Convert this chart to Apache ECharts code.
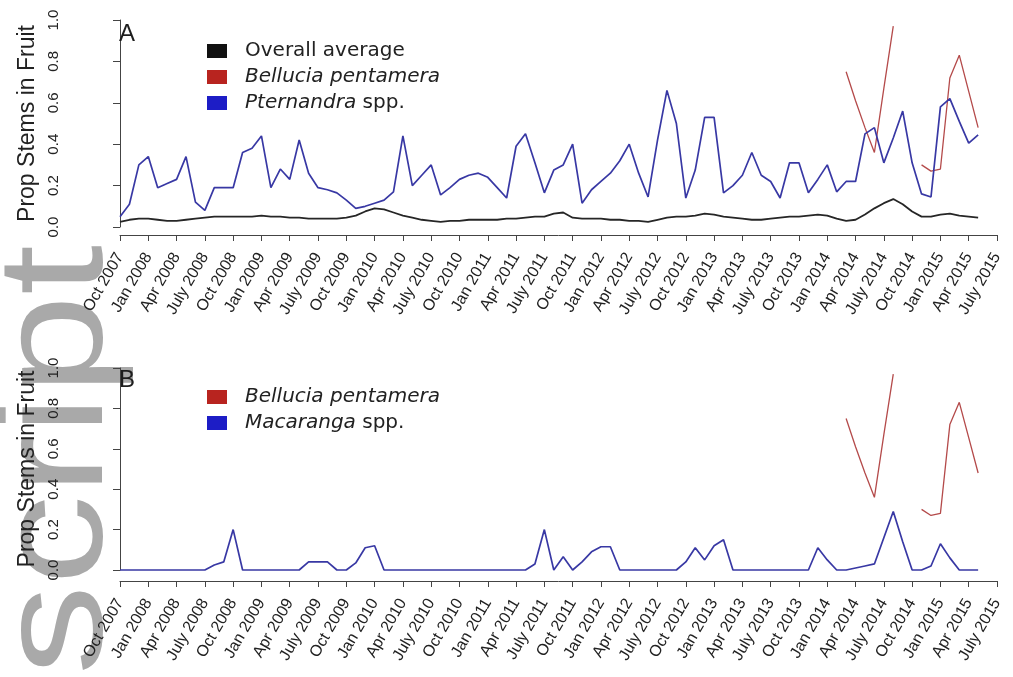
<!DOCTYPE html>
<html>
<head>
<meta charset="utf-8">
<script src="https://cdn.jsdelivr.net/npm/echarts@6/dist/echarts.min.js"></script>
<style>
  html, body { margin: 0; padding: 0; background: #fff; }
  #chart { width: 1013px; height: 677px; }
</style>
</head>
<body>
<div id="chart"></div>
<script>
// Quarterly tick labels, Oct 2007 .. July 2015 (one tick every 3 months)
const quarterLabels = [
  'Oct 2007',
  'Jan 2008', 'Apr 2008', 'July 2008', 'Oct 2008',
  'Jan 2009', 'Apr 2009', 'July 2009', 'Oct 2009',
  'Jan 2010', 'Apr 2010', 'July 2010', 'Oct 2010',
  'Jan 2011', 'Apr 2011', 'July 2011', 'Oct 2011',
  'Jan 2012', 'Apr 2012', 'July 2012', 'Oct 2012',
  'Jan 2013', 'Apr 2013', 'July 2013', 'Oct 2013',
  'Jan 2014', 'Apr 2014', 'July 2014', 'Oct 2014',
  'Jan 2015', 'Apr 2015', 'July 2015'
];

// Monthly proportion of stems in fruit, starting Oct 2007 (month 0)
const overallAverage = [
  0.025, 0.035, 0.04, 0.04, 0.035, 0.03, 0.03, 0.035, 0.04, 0.045,
  0.05, 0.05, 0.05, 0.05, 0.05, 0.055, 0.05, 0.05, 0.045, 0.045,
  0.04, 0.04, 0.04, 0.04, 0.045, 0.055, 0.075, 0.09, 0.085, 0.07,
  0.055, 0.045, 0.035, 0.03, 0.025, 0.03, 0.03, 0.035, 0.035, 0.035,
  0.035, 0.04, 0.04, 0.045, 0.05, 0.05, 0.065, 0.07, 0.045, 0.04,
  0.04, 0.04, 0.035, 0.035, 0.03, 0.03, 0.025, 0.035, 0.045, 0.05,
  0.05, 0.055, 0.065, 0.06, 0.05, 0.045, 0.04, 0.035, 0.035, 0.04,
  0.045, 0.05, 0.05, 0.055, 0.06, 0.055, 0.04, 0.03, 0.035, 0.06,
  0.09, 0.115, 0.135, 0.11, 0.075, 0.05, 0.05, 0.06, 0.065, 0.055,
  0.05, 0.045
];

const pternandra = [
  0.05, 0.11, 0.30, 0.34, 0.19, 0.21, 0.23, 0.34, 0.12, 0.08,
  0.19, 0.19, 0.19, 0.36, 0.38, 0.44, 0.19, 0.28, 0.23, 0.42,
  0.26, 0.19, 0.18, 0.165, 0.13, 0.09, 0.10, 0.115, 0.13, 0.17,
  0.44, 0.20, 0.25, 0.30, 0.155, 0.19, 0.23, 0.25, 0.26, 0.24,
  0.19, 0.14, 0.39, 0.45, 0.31, 0.165, 0.275, 0.30, 0.40, 0.115,
  0.18, 0.22, 0.26, 0.32, 0.40, 0.26, 0.145, 0.42, 0.66, 0.50,
  0.14, 0.275, 0.53, 0.53, 0.165, 0.20, 0.25, 0.36, 0.25, 0.22,
  0.14, 0.31, 0.31, 0.165, 0.23, 0.30, 0.17, 0.22, 0.22, 0.45,
  0.48, 0.31, 0.43, 0.56, 0.31, 0.16, 0.145, 0.58, 0.62, 0.51,
  0.405, 0.445
];

const N = null;
const bellucia = [
  N, N, N, N, N, N, N, N, N, N,
  N, N, N, N, N, N, N, N, N, N,
  N, N, N, N, N, N, N, N, N, N,
  N, N, N, N, N, N, N, N, N, N,
  N, N, N, N, N, N, N, N, N, N,
  N, N, N, N, N, N, N, N, N, N,
  N, N, N, N, N, N, N, N, N, N,
  N, N, N, N, N, N, N, 0.75, 0.61, 0.48,
  0.36, 0.67, 0.97, N, N, 0.30, 0.27, 0.28, 0.72, 0.83,
  0.655, 0.48
];

const macaranga = [
  0, 0, 0, 0, 0, 0, 0, 0, 0, 0,
  0.025, 0.04, 0.20, 0, 0, 0, 0, 0, 0, 0,
  0.04, 0.04, 0.04, 0, 0, 0.035, 0.11, 0.12, 0, 0,
  0, 0, 0, 0, 0, 0, 0, 0, 0, 0,
  0, 0, 0, 0, 0.03, 0.20, 0, 0.065, 0, 0.04,
  0.09, 0.115, 0.115, 0, 0, 0, 0, 0, 0, 0,
  0.04, 0.11, 0.05, 0.12, 0.15, 0, 0, 0, 0, 0,
  0, 0, 0, 0, 0.11, 0.05, 0, 0, 0.01, 0.02,
  0.03, 0.16, 0.29, 0.14, 0, 0, 0.02, 0.13, 0.06, 0,
  0, 0
];

const monthPairs = values => values.map((v, i) => [i, v]);

const TEXT = '#222222';
const AXIS = '#444444';
const SANS = 'Liberation Sans, Arial, Helvetica, sans-serif';
const LEGEND_FONT = 'DejaVu Sans, sans-serif';

const COLORS = {
  avgLine: '#262626', avgKey: '#111111',
  belLine: '#b44a4a', belKey: '#b8241f',
  blueLine: '#3838a4', blueKey: '#1d1dc6'
};

function timeAxis(gridIndex, offset) {
  return {
    type: 'value', gridIndex, min: 0, max: 93, interval: 3, offset,
    axisLine: { show: true, onZero: false, lineStyle: { color: AXIS, width: 1 } },
    axisTick: { show: true, length: 6, lineStyle: { color: AXIS, width: 1 } },
    axisLabel: {
      rotate: 60, margin: 19, fontSize: 16, fontFamily: SANS, color: TEXT,
      showMinLabel: true, showMaxLabel: true, hideOverlap: false,
      formatter: v => quarterLabels[Math.round(v / 3)] || ''
    },
    splitLine: { show: false }
  };
}

function propAxis(gridIndex) {
  return {
    type: 'value', gridIndex, min: 0, max: 1, interval: 0.2, offset: 47,
    name: 'Prop Stems in Fruit', nameLocation: 'middle', nameGap: 34, nameRotate: 90,
    nameMoveOverlap: false,
    nameTextStyle: { fontSize: 23, fontFamily: SANS, color: TEXT },
    axisLine: { show: true, lineStyle: { color: AXIS, width: 1 } },
    axisTick: { show: true, length: 7, lineStyle: { color: AXIS, width: 1 } },
    axisLabel: {
      rotate: 90, margin: 12, fontSize: 15, fontFamily: SANS, color: TEXT,
      showMinLabel: true, showMaxLabel: true,
      formatter: v => v.toFixed(1)
    },
    splitLine: { show: false }
  };
}

const legendText = {
  fontFamily: LEGEND_FONT, fontSize: 20, color: TEXT, lineHeight: 20,
  padding: [0, 0, 0, 13],
  rich: { it: { fontFamily: LEGEND_FONT, fontSize: 20, fontStyle: 'italic', color: TEXT } }
};

function legendLabel(name) {
  if (name === 'Bellucia pentamera') return '{it|Bellucia pentamera}';
  if (name === 'Pternandra spp.') return '{it|Pternandra} spp.';
  if (name === 'Macaranga spp.') return '{it|Macaranga} spp.';
  return name;
}

function lineSeries(name, values, color, width, axisIndex, z) {
  return {
    type: 'line', name, data: monthPairs(values),
    xAxisIndex: axisIndex, yAxisIndex: axisIndex,
    showSymbol: false, symbol: 'none', connectNulls: false, clip: false,
    lineStyle: { color, width }, itemStyle: { color }, z,
    emphasis: { disabled: true }, silent: true
  };
}

const chart = echarts.init(document.getElementById('chart'));

chart.setOption({
  animation: false,
  backgroundColor: '#ffffff',
  grid: [
    { left: 120, right: 16, top: 20, height: 207, outerBoundsMode: 'none', containLabel: false },
    { left: 120, right: 16, top: 368, height: 202, outerBoundsMode: 'none', containLabel: false }
  ],
  xAxis: [timeAxis(0, 8), timeAxis(1, 11)],
  yAxis: [propAxis(0), propAxis(1)],
  legend: [
    {
      orient: 'vertical', left: 207, top: 41, padding: 0, icon: 'rect',
      itemWidth: 20, itemHeight: 14, itemGap: 6, selectedMode: false,
      formatter: legendLabel, textStyle: legendText,
      data: [
        { name: 'Overall average', itemStyle: { color: COLORS.avgKey } },
        { name: 'Bellucia pentamera', itemStyle: { color: COLORS.belKey } },
        { name: 'Pternandra spp.', itemStyle: { color: COLORS.blueKey } }
      ]
    },
    {
      orient: 'vertical', left: 207, top: 387, padding: 0, icon: 'rect',
      itemWidth: 20, itemHeight: 14, itemGap: 6, selectedMode: false,
      formatter: legendLabel, textStyle: legendText,
      data: [
        { name: 'Bellucia pentamera', itemStyle: { color: COLORS.belKey } },
        { name: 'Macaranga spp.', itemStyle: { color: COLORS.blueKey } }
      ]
    }
  ],
  graphic: [
    {
      // vertical grey side banner, reading bottom to top
      type: 'text', x: 61, y: 245, rotation: Math.PI / 2, scaleX: 1.2, scaleY: 1,
      z: -10, silent: true,
      style: {
        text: 'Author Manuscript', font: '150px "Liberation Sans", Arial, sans-serif',
        fill: '#a9a9a9', align: 'right', verticalAlign: 'middle'
      }
    },
    {
      type: 'text', x: 119, y: 34, z: 10, silent: true,
      style: { text: 'A', font: '24px "Liberation Sans", Arial, sans-serif', fill: '#1e1e1e', verticalAlign: 'middle' }
    },
    {
      type: 'text', x: 119, y: 380, z: 10, silent: true,
      style: { text: 'B', font: '24px "Liberation Sans", Arial, sans-serif', fill: '#1e1e1e', verticalAlign: 'middle' }
    }
  ],
  series: [
    lineSeries('Overall average', overallAverage, COLORS.avgLine, 1.8, 0, 2),
    lineSeries('Bellucia pentamera', bellucia, COLORS.belLine, 1.3, 0, 3),
    lineSeries('Pternandra spp.', pternandra, COLORS.blueLine, 1.7, 0, 4),
    lineSeries('Bellucia pentamera', bellucia, COLORS.belLine, 1.3, 1, 3),
    lineSeries('Macaranga spp.', macaranga, COLORS.blueLine, 1.7, 1, 4)
  ]
});
</script>
</body>
</html>
